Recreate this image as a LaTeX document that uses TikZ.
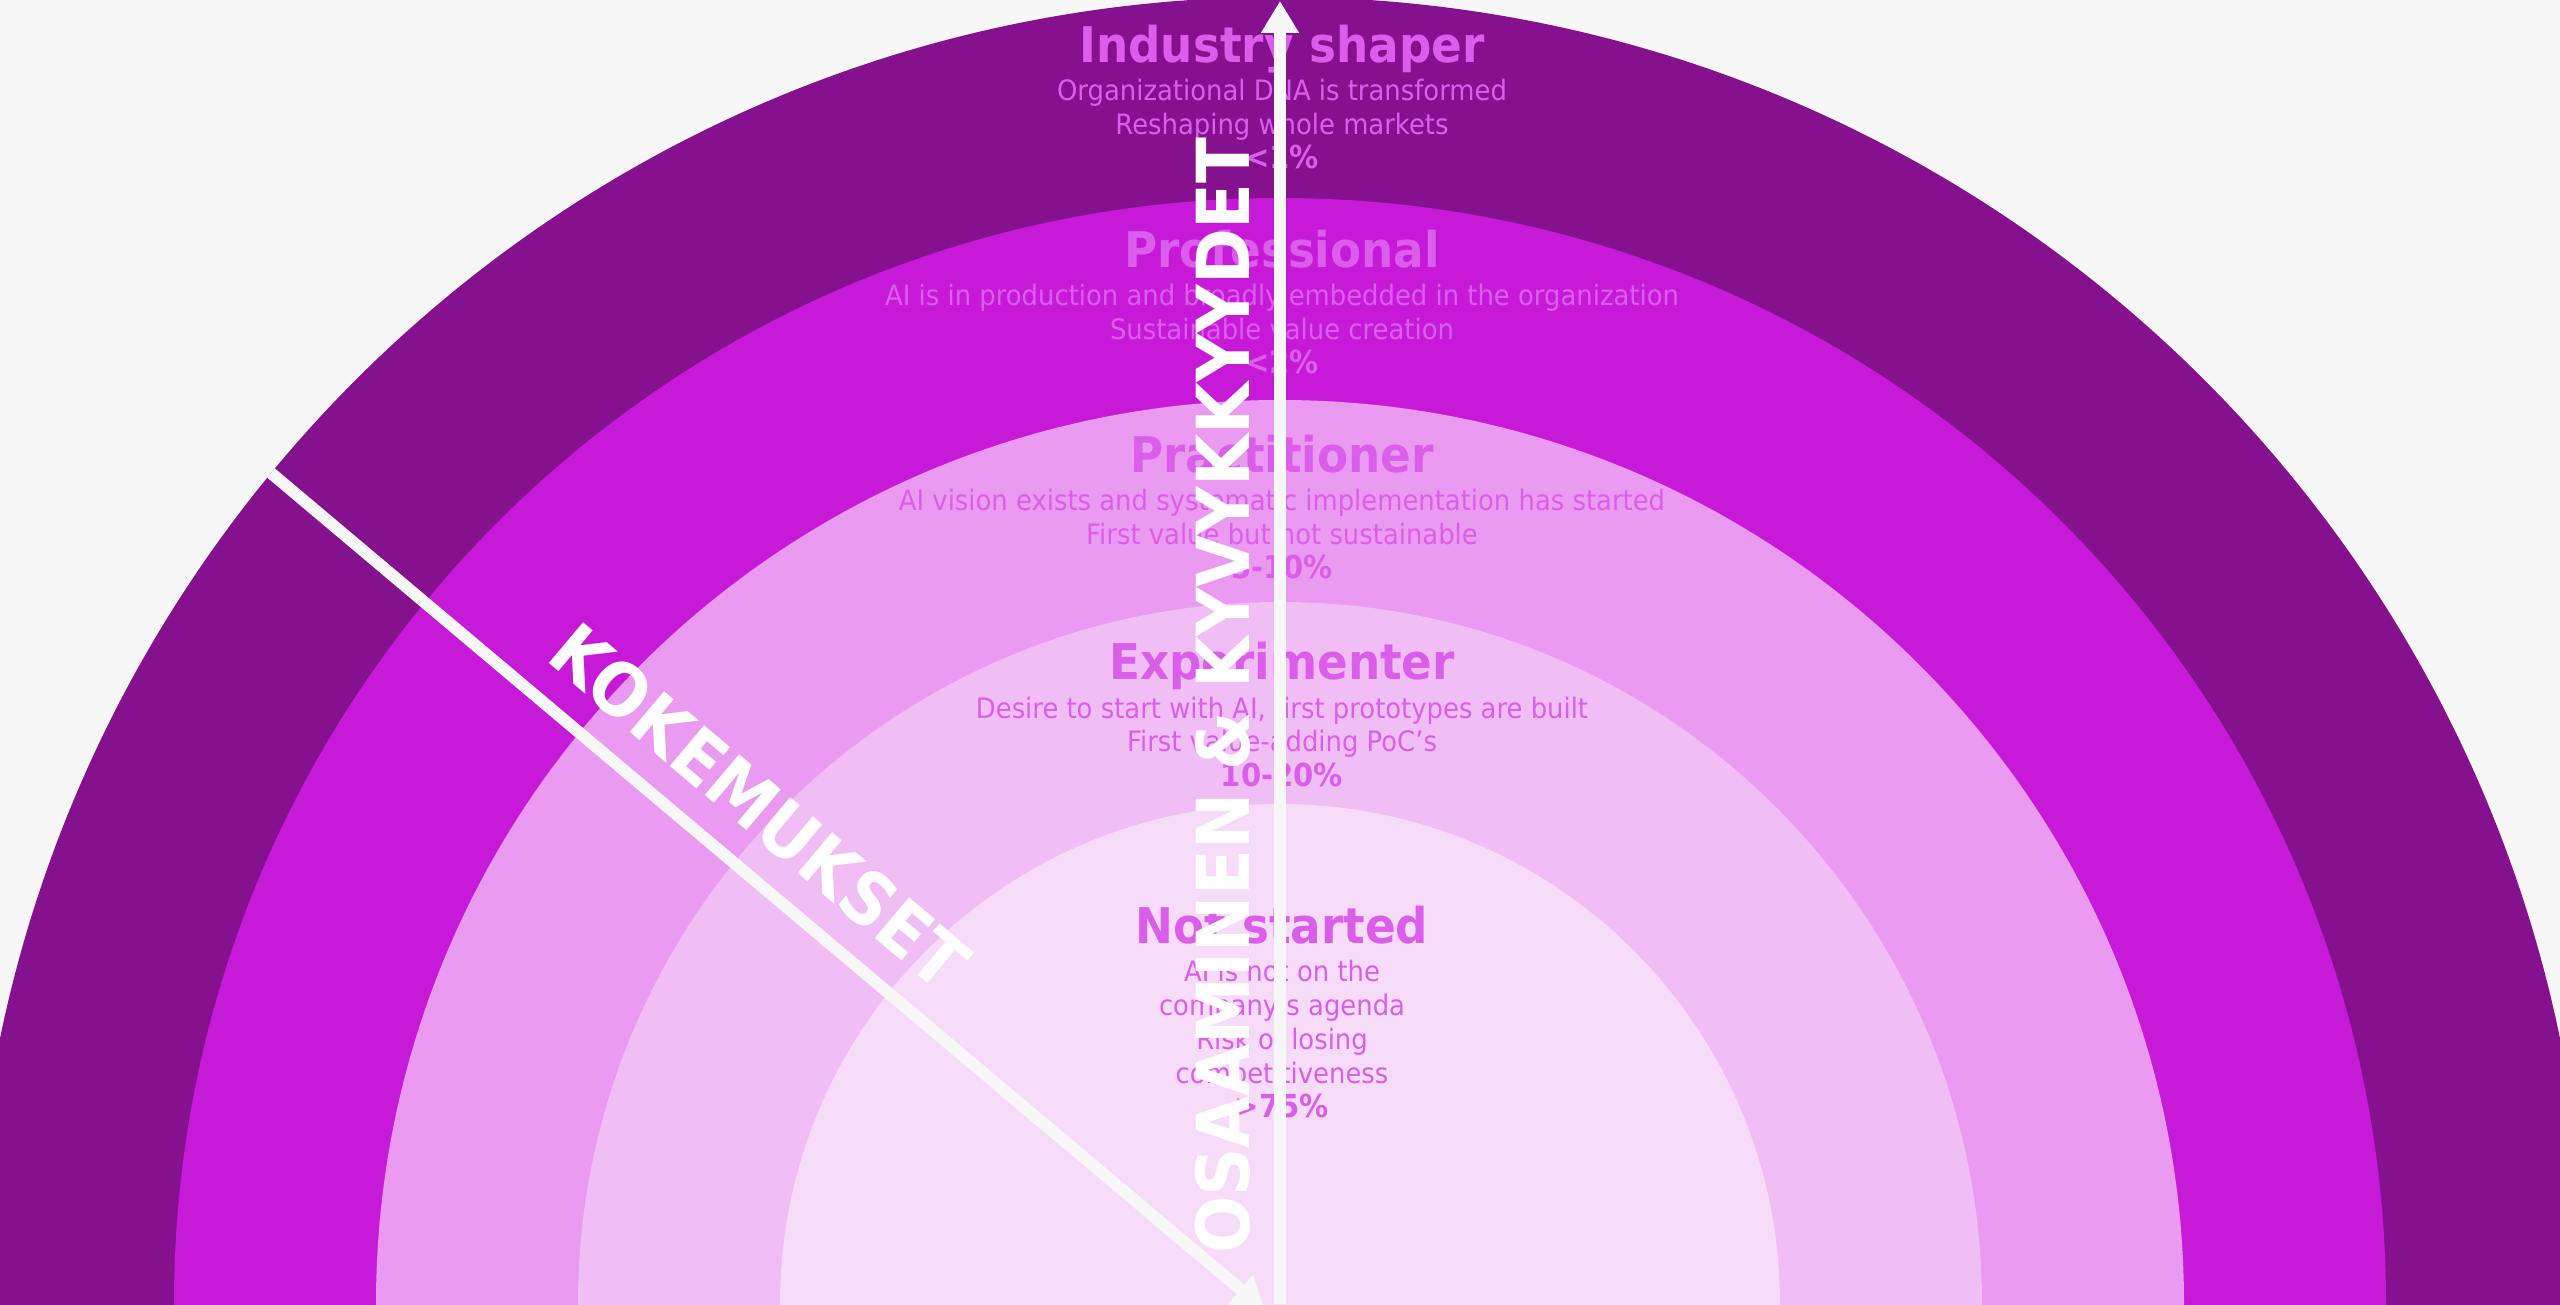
\documentclass[tikz,border=0pt]{standalone}
\usepackage{fontspec}
\setmainfont{DejaVu Sans}
\newfontfamily\ringfont[FakeStretch=0.92]{DejaVu Sans}
\usepackage{tikz}
\usetikzlibrary{arrows.meta}
\definecolor{bggrey}{HTML}{F7F7F7}
\definecolor{ringone}{HTML}{86118F}
\definecolor{ringtwo}{HTML}{C71AD9}
\definecolor{ringthree}{HTML}{EA9AF0}
\definecolor{ringfour}{HTML}{F0BEF5}
\definecolor{ringfive}{HTML}{F7DCFA}
\definecolor{levelpink}{HTML}{DB5EEB}
\tikzset{head/.style={font=\ringfont\bfseries\fontsize{14}{16}\selectfont,text=levelpink,anchor=base}}
\tikzset{desc/.style={font=\ringfont\fontsize{8}{9.6}\selectfont,text=levelpink,anchor=base}}
\tikzset{pct/.style={font=\ringfont\bfseries\fontsize{9}{10.8}\selectfont,text=levelpink,anchor=base}}

\begin{document}
\begin{tikzpicture}
[axis/.style={draw=bggrey,line width=0.12cm,-{Triangle[length=0.32cm,width=0.36cm]}},
 axislabel/.style={font=\ringfont\bfseries\fontsize{20.8}{24}\selectfont,text=white,sloped,inner sep=0pt}]
\path[use as bounding box,fill=bggrey] (0,0) rectangle (25.6,13.04);
\clip (0,0) rectangle (25.6,13.04);

\coordinate (centre) at (12.8,0);
\coordinate (top) at (12.8,13.03);
\coordinate (expstart) at (2.71,8.31);
\coordinate (expend) at (12.65,-0.06);

% rings
\fill[ringone] (centre) circle (13.07);
\fill[ringtwo] (centre) circle (11.06);
\fill[ringthree] (centre) circle (9.04);
\fill[ringfour] (centre) circle (7.02);
\fill[ringfive] (centre) circle (5.00);

% levels
\node[head] (shaper) at (12.82,12.41) {Industry shaper};
\node[desc] (shaperdna) at (12.82,12.03) {Organizational DNA is transformed};
\node[desc] (shapermarket) at (12.82,11.69) {Reshaping whole markets};
\node[pct] (shaperpct) at (12.82,11.35) {<1\%};

\node[head] (prof) at (12.82,10.36) {Professional};
\node[desc] (profprod) at (12.82,9.98) {AI is in production and broadly embedded in the organization};
\node[desc] (profvalue) at (12.82,9.64) {Sustainable value creation};
\node[pct] (profpct) at (12.82,9.30) {<2\%};

\node[head] (pract) at (12.82,8.31) {Practitioner};
\node[desc] (practvision) at (12.82,7.93) {AI vision exists and systematic implementation has started};
\node[desc] (practvalue) at (12.82,7.59) {First value but not sustainable};
\node[pct] (practpct) at (12.82,7.25) {3-10\%};

\node[head] (exper) at (12.82,6.24) {Experimenter};
\node[desc] (experwish) at (12.82,5.86) {Desire to start with AI, first prototypes are built};
\node[desc] (experpoc) at (12.82,5.52) {First value-adding PoC’s};
\node[pct] (experpct) at (12.82,5.18) {10-20\%};

\node[head] (notst) at (12.82,3.61) {Not started};
\node[desc] (notstagenda) at (12.82,3.23) {AI is not on the};
\node[desc] (notstcomp) at (12.82,2.89) {company’s agenda};
\node[desc] (notstrisk) at (12.82,2.55) {Risk of losing};
\node[desc] (notstcompet) at (12.82,2.21) {competitiveness};
\node[pct] (notstpct) at (12.82,1.87) {>75\%};

% axes
\draw[axis] (centre) -- node[axislabel,above=0.23cm,pos=0.467] (skills) {OSAAMINEN \& KYVYKKYYDET} (top);
\draw[axis] (expstart) -- node[axislabel,above=0.26cm,pos=0.453] (exp) {KOKEMUKSET} (expend);
\end{tikzpicture}
\end{document}
